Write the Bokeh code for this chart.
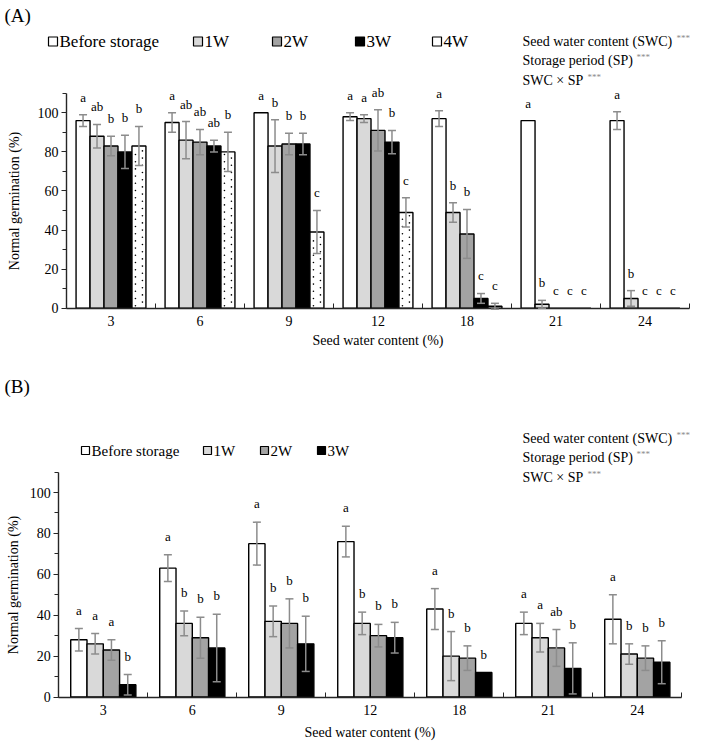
from bokeh.plotting import figure
from bokeh.models import Range1d, LinearAxis, FixedTicker, ColumnDataSource, Whisker, TeeHead
from bokeh.layouts import column
from bokeh.embed import file_html
from bokeh.resources import INLINE
from bokeh.core.properties import value

# ---------------- data ----------------
swc_levels = ["3", "6", "9", "12", "18", "21", "24"]
series_a = ["Before storage", "1W", "2W", "3W", "4W"]
series_b = ["Before storage", "1W", "2W", "3W"]

# Panel (A): normal germination (%)
a_before = [96, 95, 100, 98, 97, 96, 96]
a_1w = [88, 86, 83, 97, 49, 2, 5]
a_2w = [83, 85, 84, 91, 38, 0, 0]
a_3w = [80, 83, 84, 85, 5, 0, 0]
a_4w = [83, 80, 39, 49, 1, 0, 0]
a_before_err = [3, 5, 0, 2, 4, 0, 4.5]
a_1w_err = [6, 9.5, 13.5, 2, 5, 2, 4]
a_2w_err = [5, 6.5, 5.5, 10.5, 12.5, 0, 0]
a_3w_err = [8.5, 3, 5.5, 6, 2.5, 0, 0]
a_4w_err = [10, 10, 11, 7.5, 1.5, 0, 0]
a_before_sig = ["a", "a", "a", "a", "a", "a", "a"]
a_1w_sig = ["ab", "ab", "b", "a", "b", "b", "b"]
a_2w_sig = ["b", "ab", "b", "ab", "b", "c", "c"]
a_3w_sig = ["b", "ab", "b", "b", "c", "c", "c"]
a_4w_sig = ["b", "b", "c", "c", "c", "c", "c"]

# Panel (B)
b_before = [28, 63, 75, 76, 43, 36, 38]
b_1w = [26, 36, 37, 36, 20, 29, 21]
b_2w = [23, 29, 36, 30, 19, 24, 19]
b_3w = [6, 24, 26, 29, 12, 14, 17]
b_before_err = [5.5, 6.5, 10.5, 7.5, 10, 5.5, 12]
b_1w_err = [5, 6, 7.5, 5.5, 12, 7, 5]
b_2w_err = [5, 10, 12, 5.5, 6, 9, 6]
b_3w_err = [5, 16.5, 13.5, 7.5, 0, 12.5, 10.5]
b_before_sig = ["a", "a", "a", "a", "a", "a", "a"]
b_1w_sig = ["a", "b", "b", "b", "b", "a", "b"]
b_2w_sig = ["a", "b", "b", "b", "b", "ab", "b"]
b_3w_sig = ["b", "b", "b", "b", "b", "b", "b"]

y_ticks = [0, 20, 40, 60, 80, 100]
stats_lines = ["Seed water content (SWC)", "Storage period (SP)", "SWC \u00d7 SP"]
stats_marks = ["***", "***", "***"]

# ---------------- style ----------------
FONT = "Liberation Serif"
FILLS = {"Before storage": "white", "1W": "#d9d9d9", "2W": "#a3a3a3", "3W": "black", "4W": "white"}
DOTTED = {"4W"}
AXIS_COL = "#262626"
ERR_COL = "#8c8c8c"
W = 702
PPG = 89.0  # pixels per SWC group


def build(height, page_top, x0_px, y0_px, ppu, series, means, errs, sigs,
          axis_top, minor, legend_x, legend_y, legend_font, legend_box,
          tag, tag_y, stats_y, star_x,
          bar_w, sig_pad, xtick_standoff, xlab_standoff, ylab_standoff):
    page_bottom = page_top + height
    # group i is centred at i+1, boundaries at i+0.5
    xr = Range1d(0.5 - x0_px / PPG, 0.5 + (W - x0_px) / PPG)
    yr = Range1d(-(page_bottom - y0_px) / ppu, (y0_px - page_top) / ppu)
    p = figure(width=W, height=height, x_range=xr, y_range=yr,
               output_backend="svg", toolbar_location=None,
               x_axis_type=None, y_axis_type=None,
               min_border=0, min_border_left=0, min_border_right=0,
               min_border_top=0, min_border_bottom=0,
               outline_line_color=None, background_fill_color="white",
               border_fill_color="white")
    p.extra_x_ranges = {"px": Range1d(0, W)}
    p.extra_y_ranges = {"px": Range1d(page_bottom, page_top)}

    n = len(series)
    total = bar_w * n
    for j, s in enumerate(series):
        xs = [i + 1 - total / 2 + bar_w * (j + 0.5) for i in range(len(swc_levels))]
        m = means[j]
        e = errs[j]
        src = ColumnDataSource(dict(
            x=xs, top=m, sig=sigs[j],
            ly=[mv + ev + sig_pad for mv, ev in zip(m, e)]))
        p.vbar(x="x", top="top", bottom=0, width=bar_w, source=src,
               fill_color=FILLS[s], line_color="black", line_width=1.4)
        if s in DOTTED:
            # sparse staggered dot fill inside each bar
            dx, dy = [], []
            bw_px = bar_w * PPG
            for xc, mv in zip(xs, m):
                k = 0
                yy = 2.5 / ppu
                while yy < mv - 2.0 / ppu:
                    off = (-0.25 if k % 2 == 0 else 0.25) * bw_px
                    dx.append(xc + off / PPG)
                    dy.append(yy)
                    yy += 3.6 / ppu
                    k += 1
            p.scatter(x=dx, y=dy, size=1.6, marker="circle",
                      fill_color="black", line_color=None)
        keep = [k for k in range(len(xs)) if e[k] > 0]
        esrc = ColumnDataSource(dict(
            x=[xs[k] for k in keep],
            upper=[m[k] + e[k] for k in keep],
            lower=[m[k] - e[k] for k in keep]))
        wh = Whisker(base="x", upper="upper", lower="lower", source=esrc,
                     line_color=ERR_COL, line_width=1.5, level="overlay",
                     upper_head=TeeHead(size=8, line_color=ERR_COL, line_width=1.5),
                     lower_head=TeeHead(size=8, line_color=ERR_COL, line_width=1.5))
        p.add_layout(wh)
        p.text(x="x", y="ly", text="sig", source=src, text_align="center",
               text_baseline="middle", text_font=value(FONT),
               text_font_size="13px", text_color="#000000")

        # legend entry
        lx = legend_x[j]
        hb = legend_box / 2
        p.quad(left=[lx], right=[lx + legend_box], top=[legend_y - hb], bottom=[legend_y + hb],
               fill_color=FILLS[s], line_color="black", line_width=1.2,
               x_range_name="px", y_range_name="px")
        p.text(x=[lx + legend_box + 2], y=[legend_y], text=[s], text_align="left",
               text_baseline="middle", text_font=value(FONT),
               text_font_size=legend_font, text_color="black",
               x_range_name="px", y_range_name="px")

    # statistics text
    for k, line in enumerate(stats_lines):
        p.text(x=[522], y=[stats_y[k]], text=[line], text_align="left",
               text_baseline="middle", text_font=value(FONT),
               text_font_size="14px", text_color="black",
               x_range_name="px", y_range_name="px")
        p.text(x=[star_x[k]], y=[stats_y[k] - 4], text=[stats_marks[k]],
               text_align="left", text_baseline="middle", text_font=value(FONT),
               text_font_size="9px", text_color="#8a8a8a",
               x_range_name="px", y_range_name="px")

    # panel tag
    p.text(x=[4], y=[tag_y], text=[tag], text_align="left", text_baseline="middle",
           text_font=value(FONT), text_font_size="19px", text_color="black",
           x_range_name="px", y_range_name="px")

    # axes
    yaxis = LinearAxis(fixed_location=0.5, bounds=(0, axis_top),
                       ticker=FixedTicker(ticks=y_ticks, minor_ticks=minor),
                       axis_label="Normal germination (%)")
    yaxis.axis_line_color = AXIS_COL
    yaxis.axis_line_width = 1.4
    yaxis.major_tick_line_color = AXIS_COL
    yaxis.minor_tick_line_color = AXIS_COL
    yaxis.major_tick_in = 0
    yaxis.major_tick_out = 5
    yaxis.minor_tick_in = 0
    yaxis.minor_tick_out = 4
    yaxis.major_label_standoff = 3
    yaxis.major_label_text_font = FONT
    yaxis.major_label_text_font_size = "14px"
    yaxis.major_label_text_color = "black"
    yaxis.axis_label_text_font = FONT
    yaxis.axis_label_text_font_size = "14px"
    yaxis.axis_label_text_font_style = "normal"
    yaxis.axis_label_text_color = "black"
    yaxis.axis_label_standoff = ylab_standoff
    p.add_layout(yaxis, "left")

    ng = len(swc_levels)
    xaxis = LinearAxis(fixed_location=0, bounds=(0.5, ng + 0.5),
                       ticker=FixedTicker(ticks=list(range(1, ng + 1)),
                                          minor_ticks=[i + 0.5 for i in range(ng + 1)]),
                       major_label_overrides={i + 1: lab for i, lab in enumerate(swc_levels)},
                       axis_label="Seed water content (%)")
    xaxis.axis_line_color = AXIS_COL
    xaxis.axis_line_width = 1.4
    xaxis.major_tick_in = 0
    xaxis.major_tick_out = 0
    xaxis.minor_tick_line_color = AXIS_COL
    xaxis.minor_tick_in = 5
    xaxis.minor_tick_out = 0
    xaxis.major_label_standoff = xtick_standoff
    xaxis.major_label_text_font = FONT
    xaxis.major_label_text_font_size = "14px"
    xaxis.major_label_text_color = "black"
    xaxis.axis_label_text_font = FONT
    xaxis.axis_label_text_font_size = "14px"
    xaxis.axis_label_text_font_style = "normal"
    xaxis.axis_label_text_color = "black"
    xaxis.axis_label_standoff = xlab_standoff
    p.add_layout(xaxis, "below")
    return p


pA = build(height=356, page_top=0, x0_px=66, y0_px=307.7, ppu=1.954,
           series=series_a,
           means=[a_before, a_1w, a_2w, a_3w, a_4w],
           errs=[a_before_err, a_1w_err, a_2w_err, a_3w_err, a_4w_err],
           sigs=[a_before_sig, a_1w_sig, a_2w_sig, a_3w_sig, a_4w_sig],
           axis_top=110, minor=[10, 30, 50, 70, 90, 110],
           legend_x=[48, 193, 272, 355, 432], legend_y=41,
           legend_font="17px", legend_box=9,
           tag="(A)", tag_y=15, stats_y=[41, 60, 80], star_x=[676, 636, 587],
           bar_w=0.157, sig_pad=9, xtick_standoff=8, xlab_standoff=3,
           ylab_standoff=13)

pB = build(height=386, page_top=356, x0_px=58.3, y0_px=696.5, ppu=2.045,
           series=series_b,
           means=[b_before, b_1w, b_2w, b_3w],
           errs=[b_before_err, b_1w_err, b_2w_err, b_3w_err],
           sigs=[b_before_sig, b_1w_sig, b_2w_sig, b_3w_sig],
           axis_top=110, minor=[10, 30, 50, 70, 90, 110],
           legend_x=[81, 203, 260, 317], legend_y=450,
           legend_font="15px", legend_box=8,
           tag="(B)", tag_y=386, stats_y=[438, 457, 477], star_x=[676, 636, 587],
           bar_w=0.183, sig_pad=9, xtick_standoff=8, xlab_standoff=6,
           ylab_standoff=6)

layout = column(pA, pB, spacing=0)
open("out.html", "w").write(file_html(layout, INLINE))
